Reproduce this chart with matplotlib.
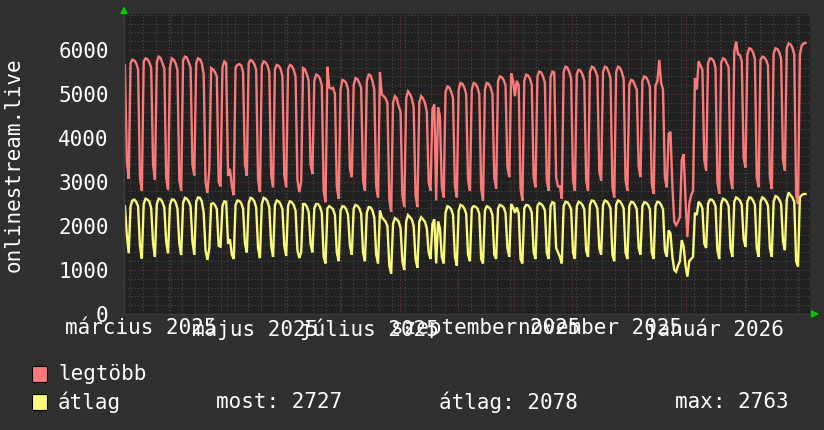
import numpy as np
import matplotlib
matplotlib.use("Agg")
import matplotlib.pyplot as plt
import matplotlib.dates as mdates
from matplotlib.patches import Rectangle, Polygon

# ---------------- data (daily values, first day = 2025-03-07) ----------------
start_date = "2025-03-07"
# first day (Friday) then weeks of [Sat, Sun, Mon, Tue, Wed, Thu, Fri]
legtobb_first = [5660]
legtobb_weeks = [
    [3480, 3070, 5700, 5780, 5760, 5700, 5560],
    [3100, 2800, 5740, 5810, 5790, 5720, 5600],
    [3400, 3050, 5720, 5850, 5820, 5700, 5580],
    [3100, 2820, 5600, 5810, 5780, 5700, 5550],
    [3050, 2800, 5760, 5850, 5830, 5720, 5600],
    [3400, 3150, 5700, 5810, 5790, 5700, 5450],
    [3000, 2750, 3300, 5590, 5560, 5500, 5400],
    [3000, 2900, 5600, 5740, 5700, 3140, 3300],
    [2900, 2700, 5600, 5660, 5680, 5650, 5500],
    [3400, 3140, 5700, 5770, 5750, 5680, 5550],
    [3050, 2770, 5650, 5740, 5720, 5650, 5500],
    [3150, 2880, 5560, 5660, 5640, 5580, 5400],
    [3150, 2880, 5560, 5660, 5640, 5550, 5400],
    [3050, 2770, 3000, 5590, 5560, 5450, 5300],
    [3400, 3180, 5300, 5440, 5420, 5350, 5200],
    [2800, 2540, 5620, 5150, 5120, 5140, 5000],
    [2900, 2620, 5100, 5320, 5300, 5250, 5100],
    [3300, 3110, 5200, 5360, 5340, 5250, 5140],
    [3050, 2800, 5300, 5440, 5420, 5300, 5100],
    [2900, 2650, 5500, 4990, 4950, 4900, 4800],
    [2600, 2320, 4800, 4950, 4900, 4720, 4600],
    [2700, 2430, 4900, 5060, 5000, 4900, 4700],
    [2700, 2430, 4800, 4950, 4900, 4800, 4600],
    [3000, 2800, 4650, 4760, 2580, 4700, 4500],
    [2900, 2650, 5050, 5170, 5150, 5050, 4900],
    [2900, 2650, 5100, 5250, 5230, 5150, 5000],
    [3050, 2800, 5100, 5250, 5230, 5150, 5000],
    [2850, 2580, 5100, 5250, 5230, 5150, 5000],
    [3100, 2850, 5300, 5400, 5380, 5320, 5200],
    [3350, 3110, 5470, 5300, 4950, 5300, 5200],
    [2850, 2580, 5300, 5440, 5420, 5350, 5200],
    [3100, 2880, 5400, 5510, 5490, 5400, 5250],
    [3050, 2800, 5380, 5510, 5490, 3100, 2900],
    [2900, 2620, 5500, 5620, 5600, 5500, 5350],
    [3050, 2800, 5450, 5550, 5530, 5450, 5300],
    [3050, 2800, 5500, 5620, 5600, 5520, 5400],
    [3250, 3030, 5500, 5620, 5600, 5500, 5350],
    [2900, 2650, 5500, 5620, 5600, 5500, 5350],
    [3050, 2800, 5200, 5320, 5300, 5200, 5100],
    [3350, 3110, 5300, 5400, 5380, 5300, 5150],
    [2950, 2730, 5200, 5290, 5770, 5250, 5100],
    [3100, 2880, 4100, 4140, 2900, 2100, 2020],
    [2100, 2200, 3500, 3630, 2600, 1750, 2500],
    [2700, 2800, 5360, 5100, 5740, 5650, 5550],
    [3500, 3260, 5700, 5810, 5800, 5750, 5600],
    [3000, 2730, 5700, 5810, 5790, 5700, 5600],
    [3100, 2840, 5950, 6190, 5900, 5890, 5750],
    [3550, 3330, 5900, 6040, 6020, 5950, 5800],
    [3100, 2880, 5770, 5850, 5830, 5770, 5650],
    [3100, 2840, 5920, 6040, 6020, 5950, 5800],
    [3500, 3260, 6040, 6150, 6130, 6050, 5900],
    [2700, 2500, 5900, 6100, 6150, 6160],
]
atlag_first = [2450]
atlag_weeks = [
    [1800, 1380, 2450, 2580, 2600, 2550, 2450],
    [1550, 1260, 2500, 2620, 2600, 2560, 2400],
    [1600, 1300, 2500, 2620, 2610, 2540, 2420],
    [1650, 1380, 2480, 2600, 2600, 2540, 2400],
    [1600, 1340, 2520, 2640, 2620, 2560, 2450],
    [1650, 1350, 2550, 2650, 2640, 2560, 2300],
    [1450, 1230, 1500, 2500, 2520, 2480, 2380],
    [1550, 1530, 2450, 2560, 2550, 1600, 1700],
    [1350, 1250, 2480, 2580, 2570, 2520, 2400],
    [1600, 1400, 2520, 2640, 2620, 2560, 2420],
    [1500, 1270, 2500, 2640, 2620, 2560, 2420],
    [1550, 1300, 2480, 2580, 2560, 2500, 2380],
    [1550, 1320, 2460, 2560, 2540, 2480, 2350],
    [1450, 1270, 1400, 2500, 2500, 2440, 2320],
    [1600, 1400, 2400, 2500, 2500, 2440, 2300],
    [1300, 1150, 2400, 2450, 2420, 2380, 2250],
    [1400, 1200, 2350, 2450, 2440, 2380, 2250],
    [1550, 1350, 2400, 2480, 2460, 2400, 2280],
    [1400, 1200, 2300, 2430, 2420, 2350, 2200],
    [1350, 1150, 2350, 2200, 2150, 2100, 2000],
    [1100, 920, 2050, 2180, 2150, 2100, 1950],
    [1200, 1000, 2100, 2250, 2200, 2150, 2000],
    [1250, 1050, 2100, 2200, 2150, 2100, 1950],
    [1400, 1250, 2050, 2150, 1150, 2100, 1950],
    [1300, 1150, 2300, 2450, 2430, 2380, 2250],
    [1300, 1100, 2350, 2480, 2460, 2400, 2280],
    [1350, 1200, 2400, 2450, 2440, 2400, 2280],
    [1250, 1150, 2350, 2450, 2430, 2380, 2250],
    [1350, 1250, 2400, 2480, 2460, 2420, 2300],
    [1500, 1300, 2500, 2430, 2300, 2420, 2300],
    [1250, 1150, 2400, 2480, 2470, 2420, 2300],
    [1400, 1250, 2450, 2520, 2500, 2450, 2350],
    [1400, 1250, 2450, 2540, 2520, 1500, 1400],
    [1300, 1150, 2450, 2550, 2540, 2480, 2380],
    [1400, 1250, 2450, 2550, 2530, 2480, 2380],
    [1450, 1300, 2480, 2580, 2570, 2500, 2400],
    [1500, 1350, 2480, 2580, 2560, 2500, 2400],
    [1350, 1200, 2480, 2580, 2560, 2500, 2400],
    [1400, 1250, 2450, 2550, 2540, 2480, 2380],
    [1500, 1350, 2450, 2540, 2530, 2480, 2380],
    [1400, 1250, 2450, 2550, 2540, 2480, 2380],
    [1450, 1300, 1900, 1830, 1300, 1000, 960],
    [1100, 1200, 1680, 1530, 1100, 850, 1200],
    [1250, 1300, 2300, 2250, 2550, 2500, 2400],
    [1600, 1500, 2500, 2600, 2600, 2550, 2450],
    [1450, 1250, 2500, 2620, 2600, 2550, 2450],
    [1500, 1300, 2550, 2650, 2620, 2580, 2480],
    [1700, 1530, 2550, 2650, 2640, 2580, 2480],
    [1500, 1300, 2550, 2650, 2620, 2560, 2460],
    [1500, 1300, 2550, 2680, 2660, 2600, 2500],
    [1650, 1450, 2600, 2763, 2700, 2650, 2550],
    [1200, 1080, 2650, 2700, 2727, 2727],
]

y_ticks = [0, 1000, 2000, 3000, 4000, 5000, 6000]
x_labels = ["március 2025", "május 2025", "július 2025",
            "szeptember 2025", "november 2025", "január 2026"]
x_label_months = ["2025-03", "2025-05", "2025-07", "2025-09", "2025-11", "2026-01"]
series_names = ["legtöbb", "átlag"]
stats_text = ["most: 2727", "átlag: 2078", "max: 2763"]
axis_title = "onlinestream.live"

legtobb = np.array(legtobb_first + [v for w in legtobb_weeks for v in w], dtype=float)
atlag = np.array(atlag_first + [v for w in atlag_weeks for v in w], dtype=float)
t0 = np.datetime64(start_date, "s")
# each daily value plotted at the middle of its day
dates = (t0 + (np.arange(len(legtobb)) * 86400 + 43200).astype("timedelta64[s]")).astype(object)

# ---------------- styling ----------------
W, H, DPI = 824, 430, 100
BG = "#303030"
PLOT_BG = "#212121"
RED = "#fa7a7a"
YEL = "#fafa78"
TXT = "#ffffff"
FONT = "DejaVu Sans Mono"
FS = 15

plt.rcParams["font.family"] = [FONT, "DejaVu Sans"]

fig = plt.figure(figsize=(W / DPI, H / DPI), dpi=DPI, facecolor=BG)
L, R, T, B = 124, 810, 14, 314
ax = fig.add_axes([L / W, 1 - B / H, (R - L) / W, (B - T) / H], facecolor=PLOT_BG)

span_days = 365.9
x0 = mdates.date2num(t0.astype(object))
ax.set_xlim(x0, x0 + span_days)
ax.set_ylim(0, 6818)

for s in ax.spines.values():
    s.set_visible(False)

# grids
minor_c = "#4a4a4a"
major_c = "#6e3434"
dot = (0, (1, 2))
for v in range(0, 6801, 200):
    if v % 1000 == 0:
        continue
    ax.axhline(v, color=minor_c, lw=0.8, ls=dot, zorder=1)
for v in y_ticks[1:]:
    ax.axhline(v, color=major_c, lw=0.8, ls=dot, zorder=1)

mondays = np.arange(np.datetime64("2025-03-10"), np.datetime64("2026-03-10"), np.timedelta64(7, "D"))
for d in mondays:
    ax.axvline(mdates.date2num(d.astype("datetime64[s]").astype(object)), color=minor_c, lw=0.8, ls=dot, zorder=1)
month_starts = np.arange(np.datetime64("2025-04"), np.datetime64("2026-04"), np.timedelta64(1, "M"))
for m in month_starts:
    ax.axvline(mdates.date2num(m.astype("datetime64[D]").astype("datetime64[s]").astype(object)),
               color=major_c, lw=0.8, ls=dot, zorder=1)

# data lines
ax.plot(dates, legtobb, color=RED, lw=1.7, zorder=3, solid_joinstyle="miter")
ax.plot(dates, atlag, color=YEL, lw=1.7, zorder=4, solid_joinstyle="miter")

# axes ticks/labels
ax.set_yticks(y_ticks)
ax.set_yticklabels([str(v) for v in y_ticks])
ax.tick_params(axis="y", length=0, pad=11, labelsize=FS, labelcolor=TXT)
ax.set_xticks([])
for lab, mo in zip(x_labels, x_label_months):
    xd = mdates.date2num((np.datetime64(mo, "D") + np.timedelta64(15, "D")).astype("datetime64[s]").astype(object))
    ax.annotate(lab, xy=(xd, 0), xycoords=ax.get_xaxis_transform(), xytext=(0, -3),
                textcoords="offset points", ha="center", va="top", fontsize=FS, color=TXT,
                annotation_clip=False)

# axis lines and arrows
ax.plot([0, 1.006], [0, 0], transform=ax.transAxes, color="#3c3c3c", lw=1, clip_on=False, zorder=5)
ax.plot([0, 0], [0, 1.01], transform=ax.transAxes, color="#3c3c3c", lw=1, clip_on=False, zorder=5)
def px(x, y):
    return (x / W, 1 - y / H)
fig.patches.append(Polygon([px(121, 13.5), px(127, 13.5), px(124, 7.5)], closed=True,
                           transform=fig.transFigure, color="#00cc00", zorder=10))
fig.patches.append(Polygon([px(811.5, 311), px(811.5, 317), px(818, 314)], closed=True,
                           transform=fig.transFigure, color="#00cc00", zorder=10))

# vertical title
fig.text(14 / W, 1 - 165 / H, axis_title, rotation=90, ha="center", va="center",
         fontsize=FS, color=TXT)

# legend
for i, (name, col) in enumerate(zip(series_names, [RED, YEL])):
    yc = 374 + 28 * i
    fig.patches.append(Rectangle(px(32, yc + 8), 15 / W, 16 / H, transform=fig.transFigure,
                                 facecolor=col, edgecolor="black", lw=0.8))
    fig.text(58 / W, 1 - yc / H, name, ha="left", va="center", fontsize=FS, color=TXT)
for txt, xp in zip(stats_text, [216, 439, 675]):
    fig.text(xp / W, 1 - 402 / H, txt, ha="left", va="center", fontsize=FS, color=TXT)

fig.savefig("out.png", dpi=DPI, facecolor=BG)
